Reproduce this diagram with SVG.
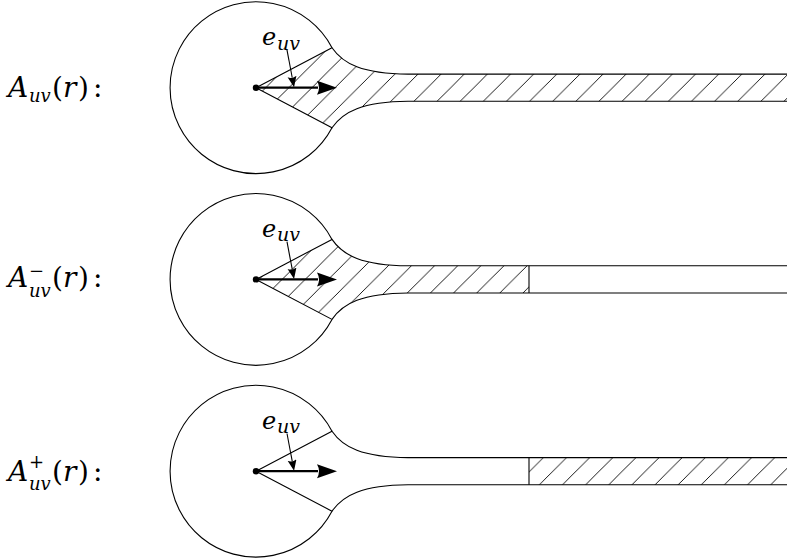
<svg xmlns="http://www.w3.org/2000/svg" width="787" height="560" viewBox="0 0 787 560">
<style>
.o{fill:none;stroke:#000;stroke-width:1.1}
.h{fill:url(#hatch);stroke:none}
.ar{stroke:#000;stroke-width:2.2;fill:none}
.sa{stroke:#000;stroke-width:1.1;fill:none}
.dot{fill:#000}
.t{font-family:"DejaVu Serif",serif;fill:#000}
.i{font-style:italic}
.m{font-size:28px}
.s{font-size:18px}
.e{font-size:24px}
.es{font-size:19px}
</style>
<defs>
<pattern id="hatch" patternUnits="userSpaceOnUse" x="6.4" y="0" width="23.13" height="23.13">
<path d="M-2,2 L2,-2 M0,23.13 L23.13,0 M21.13,25.13 L25.13,21.13" stroke="#000" stroke-width="0.9"/>
</pattern>
<marker id="big" markerUnits="userSpaceOnUse" markerWidth="22" markerHeight="16" refX="1" refY="7" orient="auto">
<path d="M20,7 L0,0 Q4,7 0,14 Z" fill="#000"/>
</marker>
<marker id="small" markerUnits="userSpaceOnUse" markerWidth="12" markerHeight="10" refX="1" refY="4.5" orient="auto">
<path d="M11,4.5 L0,0 Q2.5,4.5 0,9 Z" fill="#000"/>
</marker>
</defs>

<!-- labels -->
<g id="label1" class="t">
<text x="8" y="96.7" class="m i">A</text>
<text x="29" y="101.7" class="s i">uv</text>
<text x="52" y="96.7" class="m">(</text>
<text x="63" y="96.7" class="m i">r</text>
<text x="78" y="96.7" class="m">)</text>
<text x="93" y="96.7" class="m">:</text>
</g>
<g id="label2" class="t">
<text x="8" y="287" class="m i">A</text>
<text x="29" y="276.5" class="s">−</text>
<text x="29" y="296.5" class="s i">uv</text>
<text x="52" y="287" class="m">(</text>
<text x="63" y="287" class="m i">r</text>
<text x="78" y="287" class="m">)</text>
<text x="93" y="287" class="m">:</text>
</g>
<g id="label3" class="t">
<text x="8" y="481" class="m i">A</text>
<text x="29" y="467.5" class="s">+</text>
<text x="29" y="490" class="s i">uv</text>
<text x="52" y="481" class="m">(</text>
<text x="63" y="481" class="m i">r</text>
<text x="78" y="481" class="m">)</text>
<text x="93" y="481" class="m">:</text>
</g>

<!-- figure 1: A_uv(r) -->
<g id="fig1" class="t">
<path class="h" d="M256,87.7 L332,47.7 C343,63.7 362,73.7 408,74.1 L787,74.1 L787,101.3 L408,101.3 C362,101.7 343,111.7 332,127.7 Z"/>
<path class="o" d="M332,47.7 A85.9,85.9 0 1 0 332,127.7"/>
<path class="o" d="M256,87.7 L332,47.7 C343,63.7 362,73.7 408,74.1 L787,74.1"/>
<path class="o" d="M256,87.7 L332,127.7 C343,111.7 362,101.7 408,101.3 L787,101.3"/>
<circle class="dot" cx="256" cy="87.7" r="3.2"/>
<text class="e i" x="262" y="45">e</text>
<text class="es i" x="277" y="49.5">uv</text>
</g>

<!-- figure 2: A^-_uv(r) -->
<g id="fig2" class="t">
<path class="h" d="M256,279.4 L332,239.4 C343,255.4 362,265.4 408,265.8 L529,265.8 L529,293 L408,293 C362,293.4 343,303.4 332,319.4 Z"/>
<path class="o" d="M332,239.4 A85.9,85.9 0 1 0 332,319.4"/>
<path class="o" d="M256,279.4 L332,239.4 C343,255.4 362,265.4 408,265.8 L787,265.8"/>
<path class="o" d="M256,279.4 L332,319.4 C343,303.4 362,293.4 408,293 L787,293"/>
<path class="o" d="M529,265.8 L529,293"/>
<circle class="dot" cx="256" cy="279.4" r="3.2"/>
<text class="e i" x="262" y="236.7">e</text>
<text class="es i" x="277" y="241.2">uv</text>
</g>

<!-- figure 3: A^+_uv(r) -->
<g id="fig3" class="t">
<rect class="h" x="529" y="457.6" width="258" height="27.2"/>
<path class="o" d="M332,431.2 A85.9,85.9 0 1 0 332,511.2"/>
<path class="o" d="M256,471.2 L332,431.2 C343,447.2 362,457.2 408,457.6 L787,457.6"/>
<path class="o" d="M256,471.2 L332,511.2 C343,495.2 362,485.2 408,484.8 L787,484.8"/>
<path class="o" d="M529,457.6 L529,484.8"/>
<circle class="dot" cx="256" cy="471.2" r="3.2"/>
<text class="e i" x="262" y="428.5">e</text>
<text class="es i" x="277" y="433">uv</text>
</g>

<!-- connectors -->
<g id="connectors">
<line class="ar" x1="256" y1="87.7" x2="318" y2="87.7" marker-end="url(#big)"/>
<line class="sa" x1="287" y1="50" x2="292.2" y2="77.5" marker-end="url(#small)"/>
<line class="ar" x1="256" y1="279.4" x2="318" y2="279.4" marker-end="url(#big)"/>
<line class="sa" x1="287" y1="241.7" x2="292.2" y2="269.2" marker-end="url(#small)"/>
<line class="ar" x1="256" y1="471.2" x2="318" y2="471.2" marker-end="url(#big)"/>
<line class="sa" x1="287" y1="433.5" x2="292.2" y2="461" marker-end="url(#small)"/>
</g>
</svg>
